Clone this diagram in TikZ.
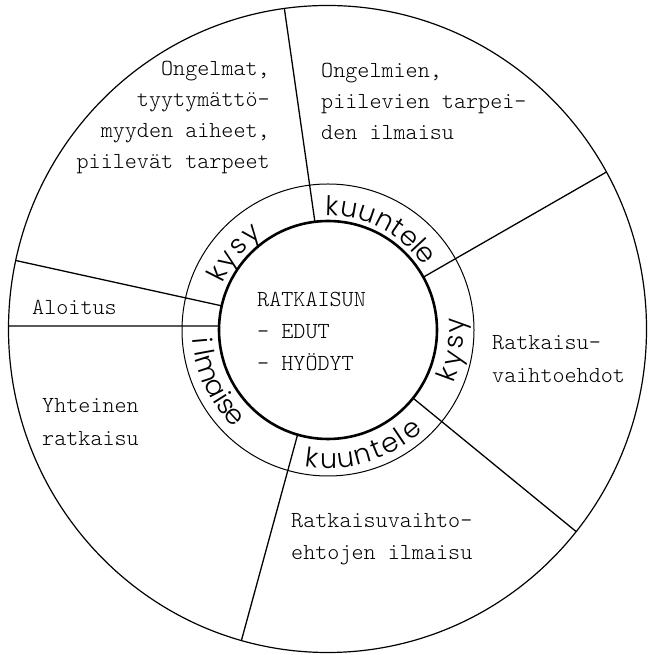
\documentclass[tikz,border=0pt]{standalone}
\usepackage{fontspec}
\setmainfont{Liberation Serif}
\newfontfamily\monofont{lmmonolt10-regular.otf}
\newfontfamily\handfont{Poppins Light}
\usetikzlibrary{calc}
\newcommand\linesL[2]{\vtop{\baselineskip=#1pt\halign{##\hfil\cr#2\crcr}}}
\newcommand\linesR[2]{\vtop{\baselineskip=#1pt\halign{\hfil##\cr#2\crcr}}}
\begin{document}
\begin{tikzpicture}[x=1pt,y=1pt,
  mono/.style={font=\monofont\fontsize{23}{27}\selectfont, inner sep=0pt},
  hand/.style={font=\handfont\fontsize{27}{30}\selectfont, inner sep=0pt, anchor=base},
  divider/.style={line width=1.3pt},
  outerring/.style={line width=1.2pt},
  midring/.style={line width=1.0pt},
  innerring/.style={line width=2.6pt}]
\useasboundingbox (0,0) rectangle (648,655);
\coordinate (C) at (328,325);
\coordinate (E) at (327.5,326);
% circles
\draw[outerring] (E) ellipse [x radius=319, y radius=323.5];
\draw[midring] (C) circle [radius=146];
\draw[innerring] (C) circle [radius=109];
% divider end points
\coordinate (i1) at ($(C)+(96.9:109)$);  \coordinate (o1) at (285,642);
\coordinate (i2) at ($(C)+(29:109)$);    \coordinate (o2) at (603,481);
\coordinate (i3) at ($(C)+(-38.7:109)$); \coordinate (o3) at (573,126);
\coordinate (i4) at ($(C)+(-106.2:109)$);\coordinate (o4) at (241,13);
\coordinate (i5) at ($(C)+(177.9:109)$); \coordinate (o5) at (9,329);
\coordinate (i6) at ($(C)+(167.2:109)$); \coordinate (o6) at (18,394);
\begin{scope}
  \clip (E) ellipse [x radius=319, y radius=323.5];
  \foreach \n in {1,...,6} \draw[divider] (i\n) -- ($(i\n)!1.15!(o\n)$);
\end{scope}
% ring words, tops outward (upper half)
\foreach \a/\c in {88.2/k,80/u,71.2/u,62.6/n,55.5/t,48.5/e,43/l,37.9/e}
  \node[hand, rotate=\a-90] at ($(C)+(\a:114.6)$) {\c};
\foreach \a/\c in {153/k,145.5/y,137/s,128.5/y}
  \node[hand, rotate=\a-90] at ($(C)+(\a:115)$) {\c};
% ring words, tops inward (lower half)
\foreach \a/\c in {-20.2/k,-12.7/y,-5.3/s,2.2/y}
  \node[hand, rotate=\a+90] at ($(C)+(\a:136)$) {\c};
\foreach \a/\c in {-97.1/k,-89.7/u,-82.1/u,-74.4/n,-67.8/t,-61.5/e,-56/l,-50.2/e}
  \node[hand, rotate=\a+90] at ($(C)+(\a:138.4)$) {\c};
\foreach \a/\c in {185/i,190.5/l,198/m,207/a,212.5/i,217/s,222.5/e}
  \node[hand, rotate=\a+90] at ($(C)+(\a:135.4)$) {\c};
% text blocks
\node[mono, anchor=base east] (ongelmat) at (270,579)
  {\linesR{31}{Ongelmat,\cr tyytymättö-\cr myyden aiheet,\cr piilevät tarpeet}};
\node[mono, anchor=base west] (ongelmien) at (321,577)
  {\linesL{31}{Ongelmien,\cr piilevien tarpei-\cr den ilmaisu}};
\node[mono, anchor=base west] (vaihtoehdot) at (492,305)
  {\linesL{33}{Ratkaisu-\cr vaihtoehdot}};
\node[mono, anchor=base west] (ilmaisu) at (291,127)
  {\linesL{32}{Ratkaisuvaihto-\cr ehtojen ilmaisu}};
\node[mono, anchor=base west] (yhteinen) at (42,242)
  {\linesL{33}{Yhteinen\cr ratkaisu}};
\node[mono, anchor=base west] (aloitus) at (32,340) {Aloitus};
\node[mono, anchor=base west] (ratkaisun) at (257,348.3)
  {\linesL{31.7}{RATKAISUN\cr - EDUT\cr - HYÖDYT}};
\end{tikzpicture}
\end{document}
